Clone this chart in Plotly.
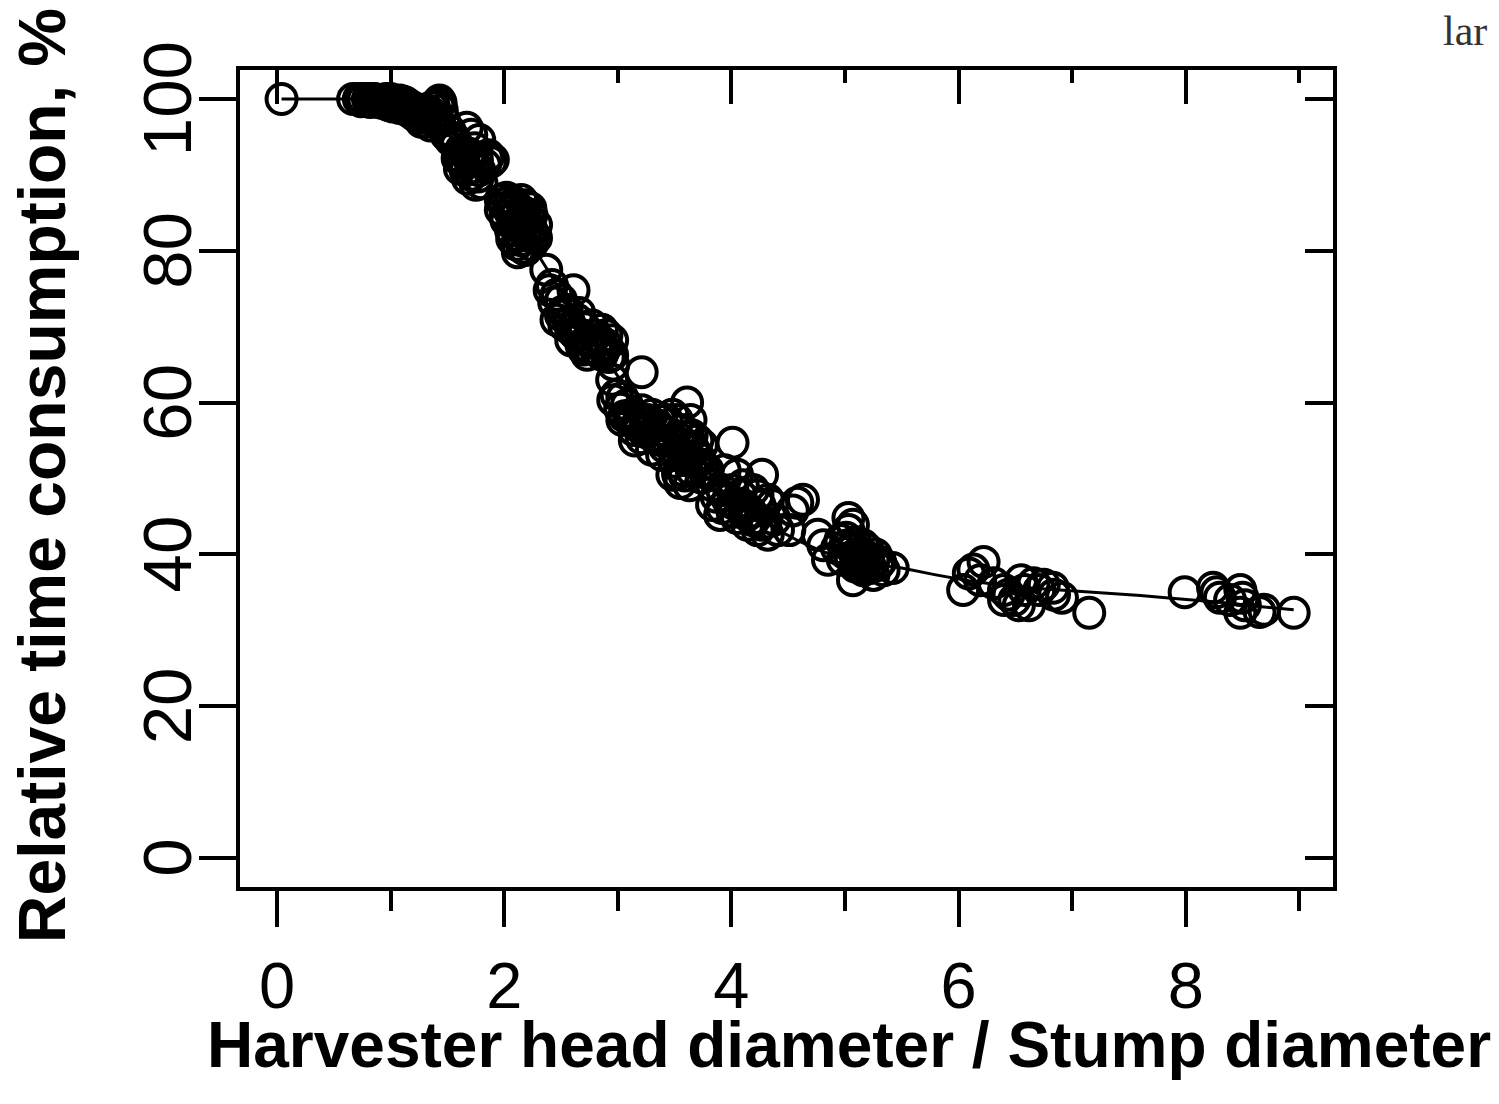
import plotly.graph_objects as go

# ---- data ----
x_obs = [
    0.04,
    0.67, 0.72, 0.76, 0.80, 0.84, 0.88, 0.92, 0.96, 1.00, 1.02, 1.06, 1.10, 1.15, 1.20, 1.25, 1.30,
    1.33, 1.38, 1.42, 1.45, 1.40, 1.35, 0.90, 1.00, 1.18, 1.28, 1.37, 1.44, 1.12, 0.98,
    1.22, 1.32, 1.41, 1.47, 1.08,
    0.74, 0.82, 0.86, 0.94, 1.04, 1.08, 1.14, 1.16, 1.24, 1.30, 1.36, 1.43, 1.27,
    1.67, 1.71, 1.78, 1.85, 1.88, 1.62, 1.58, 1.66, 1.71, 1.75, 1.80, 1.62, 1.49, 1.53, 1.78, 1.86, 1.90,
    1.64, 1.69, 1.73, 1.56, 1.60, 1.68, 1.76,
    1.52, 1.57, 1.61, 1.65, 1.70, 1.74, 1.77, 1.83, 1.59,
    2.02, 2.06, 2.15, 2.19, 2.11, 2.02, 1.97, 2.24, 2.15, 2.06, 2.24, 2.28, 2.11, 2.15, 2.24, 2.12, 2.19, 2.28, 1.97,
    2.08, 2.18, 2.22, 2.09, 2.17, 2.13, 2.04, 2.20,
    2.00, 2.05, 2.10, 2.14, 2.18, 2.22, 2.26, 2.07, 2.16, 2.23, 2.01,
    2.37, 2.42, 2.40, 2.46, 2.61, 2.50, 2.55, 2.53, 2.59, 2.64, 2.68, 2.73, 2.77, 2.86, 2.90, 2.95, 2.90, 2.81,
    2.73, 2.86, 2.95, 2.96, 2.68, 2.59, 2.86, 2.46, 2.77, 2.50, 2.63, 2.70, 2.80,
    2.44, 2.52, 2.57, 2.62, 2.66, 2.71, 2.75, 2.84, 2.88, 2.92,
    2.95, 3.21, 2.99, 2.96, 3.04, 3.08, 3.04, 3.12, 3.17, 3.21, 3.26, 3.30, 3.35, 3.39, 3.15, 3.21, 3.30, 3.39,
    3.43, 3.48, 3.30, 3.39, 3.10, 3.25,
    3.02, 3.06, 3.14, 3.19, 3.23, 3.28, 3.33, 3.37, 3.45, 3.41,
    3.61, 3.64, 3.52, 3.57, 3.65, 3.70, 3.74, 3.57, 3.48, 3.52, 3.61, 3.70, 3.74, 3.65, 3.57, 3.48, 3.55, 3.63,
    3.74, 3.79, 4.01, 3.83, 3.60, 3.68, 3.58, 3.66,
    3.50, 3.54, 3.59, 3.62, 3.67, 3.72, 3.77, 3.53,
    3.94, 4.05, 4.27, 3.92, 4.01, 4.10, 4.19, 4.23, 4.32, 3.83, 3.92, 4.01, 4.10, 4.14, 4.19, 4.27, 4.23, 4.32,
    4.41, 4.51, 4.58, 4.63, 4.54, 4.36, 4.14, 4.05,
    3.87, 3.97, 4.03, 4.08, 4.12, 4.17, 4.21, 4.25, 4.30, 4.38, 3.90,
    4.76, 4.81, 4.85, 5.03, 5.07, 4.96, 5.03, 5.07, 5.12, 5.16, 5.20, 5.25, 5.29, 5.34, 5.42, 5.16, 5.25, 5.07,
    4.98, 5.12, 5.03, 5.10, 5.20, 5.14, 5.22,
    4.93, 5.00, 5.05, 5.09, 5.14, 5.18, 5.22, 5.27, 5.31, 5.01, 5.09,
    6.04, 6.09, 6.13, 6.22, 6.19, 6.31, 6.40, 6.44, 6.58, 6.55, 6.66, 6.71, 6.75, 6.83, 6.84, 6.91, 6.53, 6.62,
    6.40, 7.15, 6.49,
    7.99, 8.24, 8.27, 8.30, 8.48, 8.50, 8.52, 8.48, 8.65, 8.69, 8.95, 8.39,
]
y_obs = [
    100.0,
    100.0, 100.0, 100.0, 100.0, 100.0, 99.8, 99.5, 100.0, 99.5, 99.0, 99.2, 99.0, 98.5, 98.0, 97.5, 97.0,
    98.5, 99.0, 99.2, 98.5, 97.5, 96.5, 99.6, 100.0, 99.0, 98.2, 98.0, 99.5, 99.6, 99.2,
    97.8, 97.8, 96.8, 97.2, 98.8,
    99.7, 99.6, 100.0, 99.8, 99.6, 99.8, 99.4, 99.0, 98.6, 98.4, 98.9, 99.8, 97.0,
    96.2, 95.3, 94.6, 92.2, 91.7, 93.3, 93.9, 90.6, 90.0, 88.7, 88.9, 92.0, 95.3, 94.6, 90.6, 92.6, 92.0,
    91.5, 92.8, 91.0, 94.8, 92.5, 89.5, 92.0,
    95.8, 94.2, 90.8, 93.0, 91.8, 93.5, 89.8, 91.3, 92.2,
    87.0, 86.7, 86.7, 86.0, 84.7, 84.0, 85.4, 84.7, 83.4, 82.7, 82.7, 81.7, 80.8, 81.4, 80.8, 79.8, 80.1, 83.4, 86.7,
    85.5, 85.0, 82.0, 83.5, 84.0, 82.0, 85.8, 83.0,
    86.2, 85.2, 86.0, 83.8, 82.6, 84.2, 82.0, 81.6, 80.4, 85.6, 84.6,
    77.5, 75.5, 74.8, 74.2, 74.8, 73.5, 72.2, 70.2, 69.6, 70.9, 68.9, 68.2, 70.2, 69.6, 68.9, 68.2, 67.6, 66.9,
    66.3, 66.3, 66.3, 65.0, 67.6, 68.2, 67.6, 70.9, 68.2, 71.5, 69.0, 67.0, 68.8,
    73.2, 72.0, 70.6, 69.2, 71.8, 69.8, 67.2, 68.2, 67.0, 66.0,
    63.0, 64.0, 61.0, 60.3, 60.6, 59.7, 57.7, 58.4, 57.0, 59.0, 57.7, 58.4, 57.0, 56.4, 55.0, 55.3, 55.7, 55.0,
    57.7, 58.4, 53.8, 53.1, 58.0, 56.5,
    59.2, 58.2, 56.4, 57.8, 56.2, 56.8, 55.4, 57.6, 56.0, 54.2,
    60.0, 57.7, 57.7, 56.4, 55.7, 55.0, 54.4, 54.4, 55.0, 53.1, 52.4, 53.1, 51.8, 51.1, 51.1, 50.5, 49.4, 49.1,
    50.1, 51.1, 54.7, 49.1, 53.8, 52.0, 52.8, 54.0,
    52.2, 55.2, 50.4, 55.4, 53.6, 52.6, 50.8, 50.6,
    51.1, 50.5, 50.5, 48.5, 48.5, 49.1, 48.5, 47.8, 47.2, 46.5, 46.1, 45.6, 46.5, 45.2, 44.5, 43.9, 43.2, 42.6,
    43.2, 43.2, 46.8, 47.2, 45.8, 46.5, 43.9, 44.8,
    47.6, 47.2, 46.6, 47.8, 46.2, 45.6, 44.8, 46.4, 44.2, 44.6, 45.2,
    42.6, 41.2, 39.3, 44.8, 43.9, 41.9, 41.2, 40.6, 39.9, 41.2, 40.6, 39.3, 38.6, 37.9, 38.2, 37.9, 37.3, 36.6,
    39.3, 38.6, 43.2, 40.0, 39.6, 38.9, 38.4,
    40.8, 40.2, 39.6, 41.6, 40.2, 39.2, 38.2, 40.0, 39.0, 42.2, 38.4,
    35.3, 37.5, 38.0, 39.0, 36.6, 36.2, 35.3, 34.7, 35.3, 36.6, 36.2, 35.3, 36.0, 35.6, 34.7, 34.3, 33.3, 33.3,
    34.0, 32.3, 34.0,
    35.0, 35.6, 35.0, 34.3, 35.3, 34.3, 33.3, 32.3, 32.4, 32.7, 32.3, 34.0,
]

curve_x = [0.04, 0.7, 1.0, 1.2, 1.4, 1.6, 1.8, 2.0, 2.2, 2.4, 2.6, 2.8, 3.0, 3.2, 3.4, 3.6, 3.8, 4.0,
           4.2, 4.4, 4.6, 4.8, 5.0, 5.2, 5.5, 5.8, 6.1, 6.5, 7.0, 7.3, 7.6, 7.9, 8.3, 8.6, 8.95]
curve_y = [100.0, 100.0, 99.6, 98.6, 96.8, 94.0, 90.5, 86.3, 81.8, 77.0, 72.3, 67.8, 63.5, 59.6, 56.0,
           52.8, 49.9, 47.4, 45.2, 43.3, 41.7, 40.4, 39.5, 38.8, 38.2, 37.3, 36.5, 35.7, 35.2, 34.9,
           34.6, 34.2, 33.7, 33.2, 32.7]

x_major = [0, 2, 4, 6, 8]
x_minor = [1, 3, 5, 7, 9]
x_labels = ["0", "2", "4", "6", "8"]
y_ticks = [0, 20, 40, 60, 80, 100]
y_labels = ["0", "20", "40", "60", "80", "100"]

x_title = "Harvester head diameter / Stump diameter"
y_title = "Relative time consumption, %"
corner_text = "lar"

X_RANGE = [-0.326, 9.296]
Y_RANGE = [-3.82, 103.82]
Y_LABEL_RANGE = [-2.5, 105.14]   # small offset so rotated labels centre on their ticks

FONT = "Liberation Sans, Arial, sans-serif"

fig = go.Figure()
fig.add_trace(go.Scatter(
    x=curve_x, y=curve_y, mode="lines",
    line=dict(color="black", width=3), hoverinfo="skip", showlegend=False))
fig.add_trace(go.Scatter(
    x=x_obs, y=y_obs, mode="markers",
    marker=dict(symbol="circle-open", size=30, color="black", line=dict(width=4, color="black")),
    showlegend=False))

# empty helper traces so that the overlaying tick axes get drawn
for xa, ya in [("x2", "y"), ("x3", "y"), ("x4", "y"), ("x", "y2"), ("x", "y3")]:
    fig.add_trace(go.Scatter(x=[None], y=[None], xaxis=xa, yaxis=ya, mode="markers",
                             showlegend=False, hoverinfo="skip"))

common_x = dict(range=X_RANGE, showgrid=False, zeroline=False, tickwidth=4, tickcolor="black")
common_y = dict(range=Y_RANGE, showgrid=False, zeroline=False, tickwidth=4, tickcolor="black")

fig.update_layout(
    width=1499, height=1104,
    margin=dict(l=240, r=166, t=70, b=217, pad=0),
    paper_bgcolor="white", plot_bgcolor="white",
    font=dict(family=FONT, color="black"),
    xaxis=dict(**common_x, domain=[0, 1], anchor="y", side="bottom",
               tickmode="array", tickvals=x_major, ticktext=x_labels,
               ticks="outside", ticklen=36, showline=True, linewidth=4, linecolor="black",
               ticklabelstandoff=3,
               tickfont=dict(size=65, family=FONT, color="black")),
    xaxis2=dict(**common_x, overlaying="x", anchor="y", side="bottom",
                tickmode="array", tickvals=x_minor, ticks="outside", ticklen=23,
                showticklabels=False, showline=False),
    xaxis3=dict(**common_x, overlaying="x", anchor="y", side="top",
                tickmode="array", tickvals=x_major, ticks="inside", ticklen=34,
                showticklabels=False, showline=True, linewidth=4, linecolor="black"),
    xaxis4=dict(**common_x, overlaying="x", anchor="y", side="top",
                tickmode="array", tickvals=x_minor, ticks="inside", ticklen=13,
                showticklabels=False, showline=False),
    yaxis=dict(**common_y, domain=[0, 1], anchor="x", side="left",
               tickmode="array", tickvals=y_ticks,
               ticks="outside", ticklen=37, showline=True, linewidth=4, linecolor="black",
               showticklabels=False),
    yaxis2=dict(**common_y, overlaying="y", anchor="x", side="right",
                tickmode="array", tickvals=y_ticks, ticks="inside", ticklen=28,
                showticklabels=False, showline=True, linewidth=4, linecolor="black"),
    yaxis3=dict(range=Y_LABEL_RANGE, showgrid=False, zeroline=False, overlaying="y", anchor="x",
                side="left", tickmode="array", tickvals=y_ticks, ticktext=y_labels,
                ticks="outside", ticklen=20, tickcolor="rgba(0,0,0,0)", showline=False,
                tickangle=-90, tickfont=dict(size=69, family=FONT, color="black")),
    annotations=[
        dict(text="<b>" + x_title + "</b>", xref="paper", yref="paper",
             x=0.557, y=-0.194, xanchor="center", yanchor="middle", showarrow=False,
             font=dict(size=64, family=FONT, color="black")),
        dict(text="<b>" + y_title + "</b>", xref="paper", yref="paper",
             x=-0.1812, y=0.504, xanchor="center", yanchor="middle", textangle=-90,
             showarrow=False, font=dict(size=66, family=FONT, color="black")),
        dict(text=corner_text, xref="paper", yref="paper", x=1.0990, y=1.0475,
             xanchor="left", yanchor="middle", showarrow=False,
             font=dict(size=42, family="Liberation Serif, DejaVu Serif, serif", color="#333")),
    ],
)

fig.write_html("out.html")
